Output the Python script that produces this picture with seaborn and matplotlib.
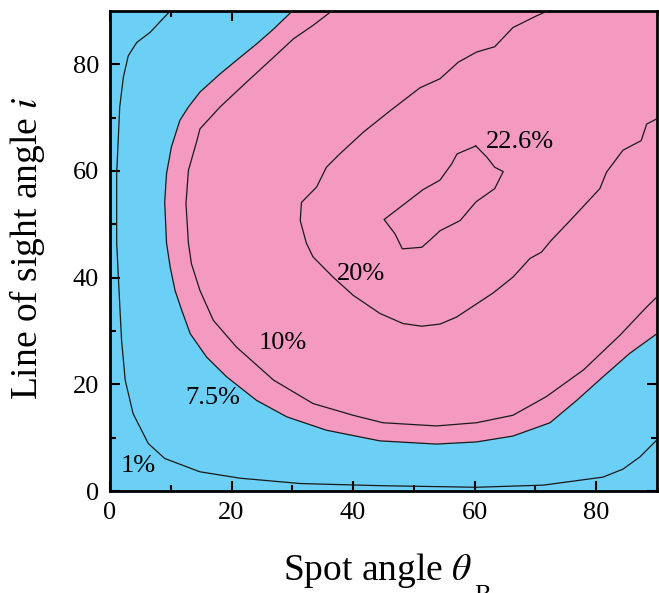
import numpy as np
import pandas as pd
import matplotlib
matplotlib.use("Agg")
import matplotlib.pyplot as plt
import seaborn as sns

# Contour levels of the spot amplitude over (spot angle, line-of-sight angle)
c1_x = [9.9, 6.6, 4.4, 3.0, 2.2, 1.6, 1.4, 1.1, 1.1, 1.4, 1.9, 2.5, 3.8, 6.3, 9.0,
        14.8, 21.4, 31.3, 44.4, 60.3, 71.3, 81.1, 84.4, 87.2, 90.0]
c1_y = [90.0, 86.0, 84.1, 81.6, 77.6, 72.0, 67.0, 59.5, 46.5, 39.5, 28.3, 20.8, 14.5,
        8.9, 6.1, 3.6, 2.4, 1.4, 1.0, 0.7, 1.1, 2.6, 4.1, 6.4, 9.6]

c75_x = [30.0, 26.9, 24.1, 21.4, 18.1, 14.8, 12.9, 11.5, 10.1, 9.3, 9.0, 9.3, 9.9,
         10.7, 11.8, 13.2, 15.9, 19.2, 24.1, 29.1, 35.6, 44.4, 53.7, 60.3, 66.3,
         72.4, 76.8, 81.1, 85.5, 90.0]
c75_y = [90.0, 86.6, 83.8, 81.3, 78.2, 74.8, 72.0, 69.5, 64.5, 59.5, 54.2, 46.5, 42.0,
         37.6, 33.9, 29.5, 25.1, 21.4, 17.0, 13.9, 11.4, 9.4, 8.8, 9.2, 10.3,
         12.8, 17.0, 21.4, 25.8, 29.5]

c10_x = [36.5, 33.4, 30.2, 26.9, 22.5, 18.1, 14.8, 14.3, 12.9, 12.5, 12.9, 13.4,
         14.8, 17.0, 20.8, 26.9, 33.4, 40.0, 44.9, 53.7, 60.3, 66.3, 71.8, 77.9,
         83.9, 88.3, 90.0]
c10_y = [90.0, 87.3, 84.8, 81.3, 76.7, 72.0, 67.9, 65.7, 60.1, 53.9, 46.5, 42.6,
         37.6, 32.0, 27.0, 20.8, 16.4, 14.2, 12.8, 12.2, 12.8, 14.2, 17.7, 22.7,
         29.2, 34.5, 36.4]

c20_x = [72.0, 70.2, 66.3, 63.3, 60.3, 57.3, 54.3, 51.0, 46.1, 42.8, 41.7, 37.8,
         35.6, 34.0, 31.5, 31.3, 32.3, 33.4, 36.7, 40.0, 44.4, 48.2, 51.3, 54.3,
         57.0, 63.0, 66.3, 69.1, 71.0, 72.6, 75.7, 80.6, 81.7, 84.4, 87.4, 88.3,
         90.0]
c20_y = [90.0, 89.1, 86.9, 83.3, 82.3, 80.4, 77.3, 75.6, 71.3, 68.3, 67.3, 63.2,
         60.7, 57.0, 54.1, 50.7, 46.5, 43.9, 40.1, 36.7, 33.3, 31.4, 30.9, 31.3,
         32.6, 37.1, 40.1, 43.6, 44.8, 47.0, 50.7, 56.7, 59.8, 63.9, 65.7, 68.8,
         69.8]

c226_x = [60.2, 57.1, 56.2, 54.3, 51.5, 45.1, 46.9, 48.1, 51.3, 52.6, 54.3, 57.6,
          60.2, 63.3, 64.7, 63.3, 62.0, 60.2]
c226_y = [64.7, 63.2, 61.3, 58.3, 56.5, 50.9, 48.2, 45.4, 45.7, 47.0, 48.8, 50.7,
          54.2, 56.7, 59.9, 60.7, 62.6, 64.7]

label_text = ["1%", "7.5%", "10%", "20%", "22.6%"]
label_x = [4.7, 16.9, 28.5, 41.3, 67.4]
label_y = [4.7, 17.4, 27.7, 40.6, 65.5]

BLUE = "#6ccff6"
PINK = "#f49ac1"

sns.set_style("ticks")
plt.rcParams["font.family"] = ["Liberation Serif", "DejaVu Serif"]
plt.rcParams["mathtext.fontset"] = "stix"
plt.rcParams["text.color"] = "black"
plt.rcParams["axes.labelcolor"] = "black"
plt.rcParams["xtick.color"] = "black"
plt.rcParams["ytick.color"] = "black"

fig = plt.figure(figsize=(6.59, 5.93), dpi=100)
ax = fig.add_axes([110 / 659, 102 / 593, 547 / 659, 480 / 593])
ax.set_xlim(0, 90)
ax.set_ylim(0, 90)
ax.set_facecolor(BLUE)

# Region above the 7.5% level, closed through the upper-right corner
fill_x = c75_x + [90.0, 90.0]
fill_y = c75_y + [90.0, 90.0]
ax.fill(fill_x, fill_y, color=PINK, lw=0, zorder=1)

contours = {"1%": (c1_x, c1_y), "7.5%": (c75_x, c75_y), "10%": (c10_x, c10_y),
            "20%": (c20_x, c20_y), "22.6%": (c226_x, c226_y)}
for name, (xs, ys) in contours.items():
    df = pd.DataFrame({"x": xs, "y": ys})
    sns.lineplot(data=df, x="x", y="y", sort=False, estimator=None,
                 color="#1a1a1a", lw=0.9, ax=ax, zorder=3)

for t, x, y in zip(label_text, label_x, label_y):
    ax.text(x, y, t, ha="center", va="center", fontsize=19, color="black", zorder=4)

ax.set_xticks([0, 20, 40, 60, 80])
ax.set_yticks([0, 20, 40, 60, 80])
ax.set_xticks(np.arange(10, 90, 20), minor=True)
ax.set_yticks(np.arange(10, 90, 20), minor=True)
ax.tick_params(which="both", direction="in", top=True, right=True, width=1.5,
               labelsize=19, color="black", labelcolor="black")
ax.tick_params(which="major", length=7, pad=8)
ax.tick_params(which="minor", length=4)
for s in ax.spines.values():
    s.set_linewidth(2)
    s.set_color("black")

ax.set_xlabel(r"Spot angle $\theta$", fontsize=27)
ax.set_ylabel(r"Line of sight angle $i$", fontsize=27)
ax.xaxis.label.set_va("baseline")
ax.yaxis.label.set_va("baseline")
ax.xaxis.set_label_coords(0.489, -0.1854)
ax.yaxis.set_label_coords(-0.1335, 0.505)
# subscript of the spot angle, set low beneath the theta
fig.text(474 / 659, -0.016, "B", fontsize=18, ha="left", va="baseline")

fig.savefig("out.png", dpi=100)
